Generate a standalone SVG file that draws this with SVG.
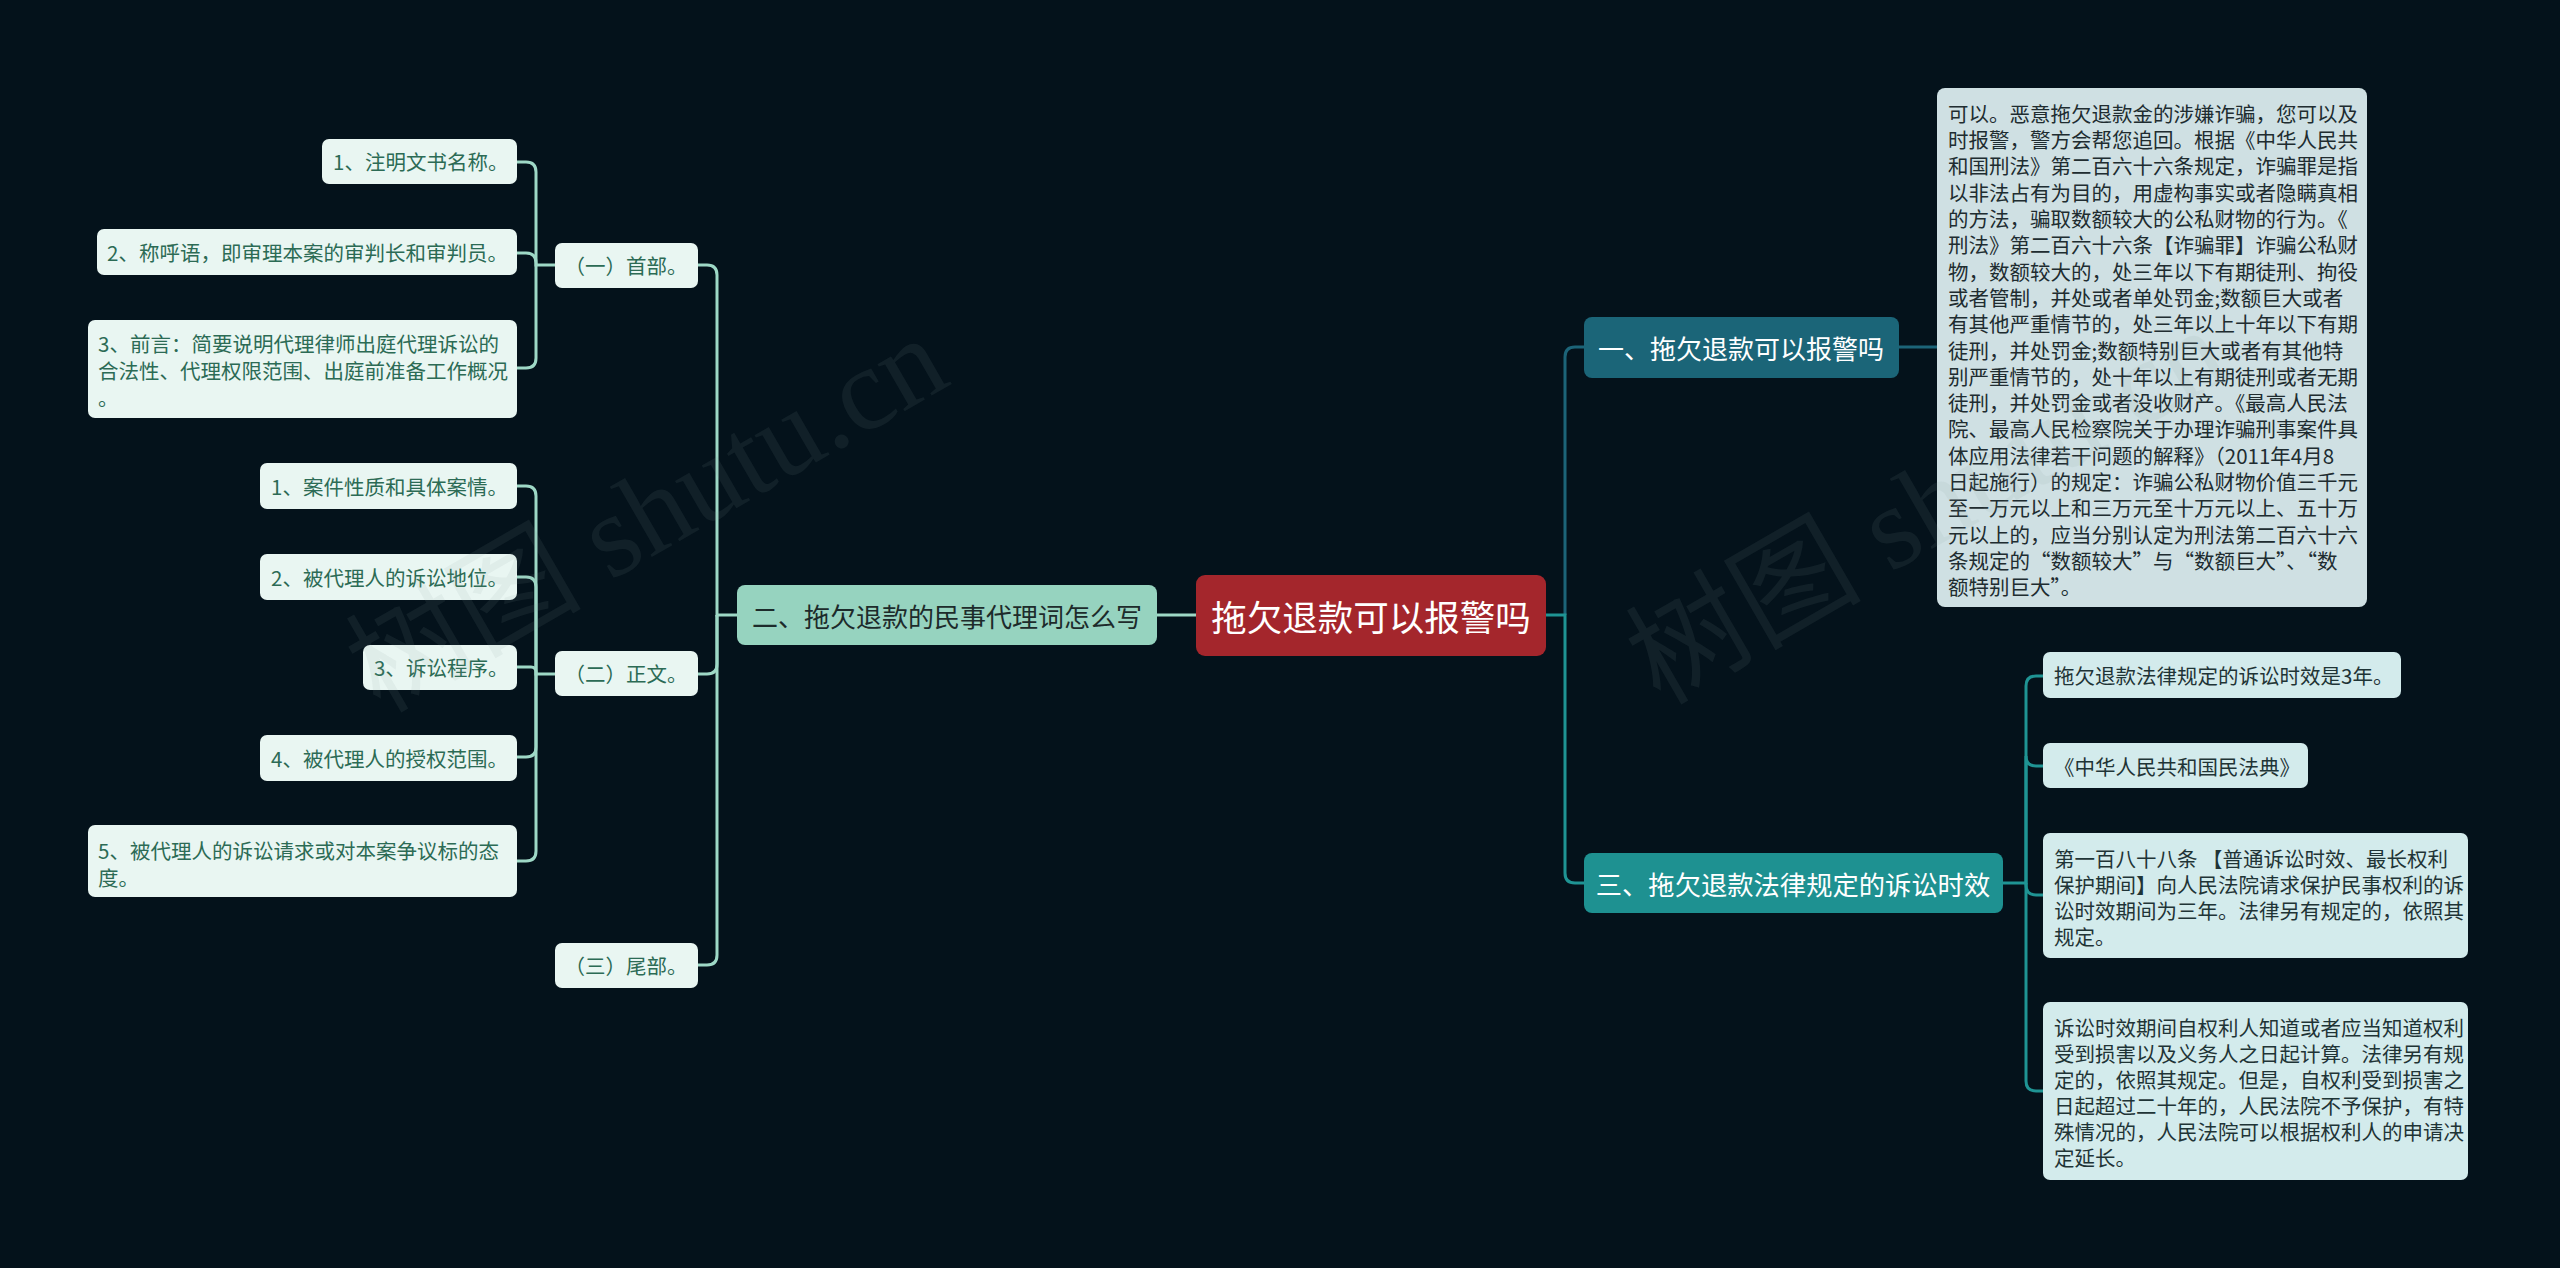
<svg xmlns="http://www.w3.org/2000/svg" width="2560" height="1268" viewBox="0 0 2560 1268">
<style>
text{font-family:"Noto Sans CJK SC","Noto Sans",sans-serif;dominant-baseline:central}
.leafL rect{fill:#e9f6f2}
.leafL text{fill:#2c6b55;font-size:20.5px}
.leafR rect{fill:#d3ebec}
.leafR text{fill:#1f3436;font-size:20.5px}
.big rect{fill:#cfe0e3}
.big text{fill:#202c30;font-size:20.5px}
.cl{fill:none;stroke:#9ed8c6;stroke-width:3}
.c1{fill:none;stroke:#1c6478;stroke-width:3}
.c3{fill:none;stroke:#1f9494;stroke-width:3}
.wm{font-family:"Liberation Serif","Noto Sans CJK SC",serif;font-size:118px;fill:#8a9a9e;fill-opacity:0.1;dominant-baseline:alphabetic}
</style>
<rect x="0" y="0" width="2560" height="1268" fill="#04121b"/>

<g id="connectors">
  <path class="cl" d="M1196 615 H1157"/>
  <path class="cl" d="M737 615 H717 V275 Q717 265 707 265 H698"/>
  <path class="cl" d="M717 615 V664 Q717 674 707 674 H698"/>
  <path class="cl" d="M717 615 V955 Q717 965 707 965 H698"/>
  <path class="cl" d="M555 265 H536 V172 Q536 162 526 162 H517"/>
  <path class="cl" d="M536 265 V263 Q536 253 526 253 H517"/>
  <path class="cl" d="M536 265 V358 Q536 368 526 368 H517"/>
  <path class="cl" d="M555 674 H536 V496 Q536 486 526 486 H517"/>
  <path class="cl" d="M536 674 V587 Q536 577 526 577 H517"/>
  <path class="cl" d="M536 674 V672 Q536 667 531 667 H517"/>
  <path class="cl" d="M536 674 V747 Q536 757 526 757 H517"/>
  <path class="cl" d="M536 674 V851 Q536 861 526 861 H517"/>
  <path class="c1" d="M1565 615 V357 Q1565 347 1575 347 H1584"/>
  <path class="c1" d="M1899 347 H1937"/>
  <path class="c3" d="M1546 615 H1565 V873 Q1565 883 1575 883 H1584"/>
  <path class="c3" d="M2003 883 H2026 V686 Q2026 676 2036 676 H2043"/>
  <path class="c3" d="M2026 883 V756 Q2026 766 2036 766 H2043"/>
  <path class="c3" d="M2026 883 V885 Q2026 895 2036 895 H2043"/>
  <path class="c3" d="M2026 883 V1081 Q2026 1091 2036 1091 H2043"/>
</g>

<g id="root">
  <rect x="1196" y="575" width="350" height="81" rx="9" fill="#a4262c"/>
  <text x="1371" y="615" text-anchor="middle" font-size="35.5" fill="#ffffff">拖欠退款可以报警吗</text>
</g>

<g id="b1">
  <rect x="1584" y="317" width="315" height="61" rx="8" fill="#1b6578"/>
  <text x="1741" y="347" text-anchor="middle" font-size="26" fill="#ffffff">一、拖欠退款可以报警吗</text>
</g>
<g id="b2">
  <rect x="737" y="585" width="420" height="60" rx="8" fill="#96d3bf"/>
  <text x="947" y="615" text-anchor="middle" font-size="26" fill="#1d2b2b">二、拖欠退款的民事代理词怎么写</text>
</g>
<g id="b3">
  <rect x="1584" y="853" width="419" height="60" rx="8" fill="#1e9191"/>
  <text x="1793" y="883" text-anchor="middle" font-size="26.3" fill="#ffffff">三、拖欠退款法律规定的诉讼时效</text>
</g>

<g id="b1-detail" class="big">
  <rect x="1937" y="88" width="430" height="519" rx="8"/>
  <text x="1948" y="113">可以。恶意拖欠退款金的涉嫌诈骗，您可以及</text>
  <text x="1948" y="139">时报警，警方会帮您追回。根据《中华人民共</text>
  <text x="1948" y="165">和国刑法》第二百六十六条规定，诈骗罪是指</text>
  <text x="1948" y="192">以非法占有为目的，用虚构事实或者隐瞒真相</text>
  <text x="1948" y="218">的方法，骗取数额较大的公私财物的行为。《</text>
  <text x="1948" y="244">刑法》第二百六十六条【诈骗罪】诈骗公私财</text>
  <text x="1948" y="271">物，数额较大的，处三年以下有期徒刑、拘役</text>
  <text x="1948" y="297">或者管制，并处或者单处罚金;数额巨大或者</text>
  <text x="1948" y="323">有其他严重情节的，处三年以上十年以下有期</text>
  <text x="1948" y="350">徒刑，并处罚金;数额特别巨大或者有其他特</text>
  <text x="1948" y="376">别严重情节的，处十年以上有期徒刑或者无期</text>
  <text x="1948" y="402">徒刑，并处罚金或者没收财产。《最高人民法</text>
  <text x="1948" y="428">院、最高人民检察院关于办理诈骗刑事案件具</text>
  <text x="1948" y="455">体应用法律若干问题的解释》（2011年4月8</text>
  <text x="1948" y="481">日起施行）的规定：诈骗公私财物价值三千元</text>
  <text x="1948" y="507">至一万元以上和三万元至十万元以上、五十万</text>
  <text x="1948" y="534">元以上的，应当分别认定为刑法第二百六十六</text>
  <text x="1948" y="560">条规定的“数额较大”与“数额巨大”、“数</text>
  <text x="1948" y="586">额特别巨大”。</text>
</g>

<g id="b3-c1" class="leafR">
  <rect x="2043" y="652" width="358" height="46" rx="7"/>
  <text x="2054" y="675">拖欠退款法律规定的诉讼时效是3年。</text>
</g>
<g id="b3-c2" class="leafR">
  <rect x="2043" y="743" width="265" height="45" rx="7"/>
  <text x="2054" y="766">《中华人民共和国民法典》</text>
</g>
<g id="b3-c3" class="leafR">
  <rect x="2043" y="833" width="425" height="125" rx="7"/>
  <text x="2054" y="858">第一百八十八条 【普通诉讼时效、最长权利</text>
  <text x="2054" y="884">保护期间】向人民法院请求保护民事权利的诉</text>
  <text x="2054" y="910">讼时效期间为三年。法律另有规定的，依照其</text>
  <text x="2054" y="936">规定。</text>
</g>
<g id="b3-c4" class="leafR">
  <rect x="2043" y="1002" width="425" height="178" rx="7"/>
  <text x="2054" y="1027">诉讼时效期间自权利人知道或者应当知道权利</text>
  <text x="2054" y="1053">受到损害以及义务人之日起计算。法律另有规</text>
  <text x="2054" y="1079">定的，依照其规定。但是，自权利受到损害之</text>
  <text x="2054" y="1105">日起超过二十年的，人民法院不予保护，有特</text>
  <text x="2054" y="1131">殊情况的，人民法院可以根据权利人的申请决</text>
  <text x="2054" y="1157">定延长。</text>
</g>

<g id="s1" class="leafL">
  <rect x="555" y="243" width="143" height="45" rx="7"/>
  <text x="626" y="265" text-anchor="middle">（一）首部。</text>
</g>
<g id="s2" class="leafL">
  <rect x="555" y="651" width="143" height="45" rx="7"/>
  <text x="626" y="673" text-anchor="middle">（二）正文。</text>
</g>
<g id="s3" class="leafL">
  <rect x="555" y="943" width="143" height="45" rx="7"/>
  <text x="626" y="965" text-anchor="middle">（三）尾部。</text>
</g>

<g id="s1-1" class="leafL">
  <rect x="322" y="139" width="195" height="45" rx="7"/>
  <text x="333" y="161">1、注明文书名称。</text>
</g>
<g id="s1-2" class="leafL">
  <rect x="97" y="229" width="420" height="46" rx="7"/>
  <text x="107" y="252">2、称呼语，即审理本案的审判长和审判员。</text>
</g>
<g id="s1-3" class="leafL">
  <rect x="88" y="320" width="429" height="98" rx="7"/>
  <text x="98" y="343">3、前言：简要说明代理律师出庭代理诉讼的</text>
  <text x="98" y="370">合法性、代理权限范围、出庭前准备工作概况</text>
  <text x="98" y="397">。</text>
</g>

<g id="s2-1" class="leafL">
  <rect x="260" y="463" width="257" height="46" rx="7"/>
  <text x="271" y="486">1、案件性质和具体案情。</text>
</g>
<g id="s2-2" class="leafL">
  <rect x="260" y="554" width="257" height="46" rx="7"/>
  <text x="271" y="577">2、被代理人的诉讼地位。</text>
</g>
<g id="s2-3" class="leafL">
  <rect x="363" y="645" width="154" height="45" rx="7"/>
  <text x="374" y="667">3、诉讼程序。</text>
</g>
<g id="s2-4" class="leafL">
  <rect x="260" y="735" width="257" height="46" rx="7"/>
  <text x="271" y="758">4、被代理人的授权范围。</text>
</g>
<g id="s2-5" class="leafL">
  <rect x="88" y="825" width="429" height="72" rx="7"/>
  <text x="98" y="850">5、被代理人的诉讼请求或对本案争议标的态</text>
  <text x="98" y="877">度。</text>
</g>

<g id="watermark">
  <text class="wm" x="380" y="714" transform="rotate(-30 380 714)">树图 shutu.cn</text>
  <text class="wm" x="1660" y="706" transform="rotate(-30 1660 706)">树图 shutu.cn</text>
</g>
</svg>
